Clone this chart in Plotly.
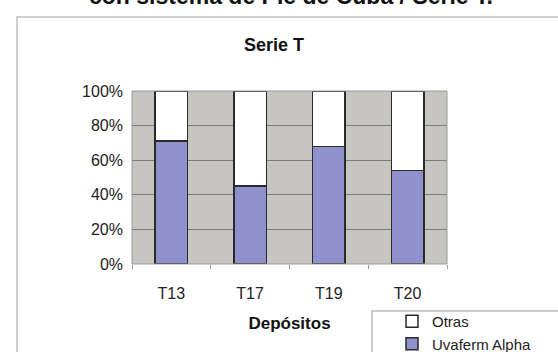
import plotly.graph_objects as go

# Depósitos of the T series and the share of each yeast strain (%)
depositos = ["T13", "T17", "T19", "T20"]
uvaferm_alpha = [71, 45, 68, 54]
otras = [29, 55, 32, 46]
y_ticks = [0, 20, 40, 60, 80, 100]

W, H = 558, 352
L, R, T, B = 132, 111, 91, 88
plot_w = W - L - R
plot_h = H - T - B


def px_x(x):
    return (x - L) / plot_w


def px_y(y):
    return (H - B - y) / plot_h


FONT = "Liberation Sans, Arial, sans-serif"
EDGE = "#2a2a2a"

fig = go.Figure()
fig.add_trace(go.Bar(
    x=depositos, y=uvaferm_alpha, name="Uvaferm Alpha",
    marker=dict(color="#8f91cc", line=dict(color=EDGE, width=1.5)),
))
fig.add_trace(go.Bar(
    x=depositos, y=otras, name="Otras",
    marker=dict(color="#ffffff", line=dict(color=EDGE, width=1.5)),
))

shapes = [
    # outer chart frame
    dict(type="rect", xref="paper", yref="paper", layer="below",
         x0=px_x(17), x1=px_x(575), y0=px_y(370), y1=px_y(17),
         line=dict(color="#cfcfcf", width=2), fillcolor="white"),
    # grey plot area
    dict(type="rect", xref="paper", yref="paper", layer="below",
         x0=0, x1=1, y0=0, y1=1, line=dict(width=0), fillcolor="#c6c5c1"),
    # plot area border
    dict(type="rect", xref="paper", yref="paper", layer="above",
         x0=0, x1=1, y0=0, y1=1, line=dict(color="#9a9a9a", width=1)),
    # legend box
    dict(type="rect", xref="paper", yref="paper", layer="below",
         x0=px_x(372), x1=px_x(575), y0=px_y(370), y1=px_y(311),
         line=dict(color="#bdbdbd", width=1.5), fillcolor="white"),
]

annotations = [
    dict(text="<b>con sistema de Pie de Cuba / Serie T.</b>", xref="paper", yref="paper",
         x=px_x(291), y=px_y(-4), xanchor="center", yanchor="middle",
         showarrow=False, font=dict(family=FONT, size=23, color="#111")),
    dict(text="<b>Serie T</b>", xref="paper", yref="paper",
         x=px_x(274), y=px_y(45), xanchor="center", yanchor="middle",
         showarrow=False, font=dict(family=FONT, size=18, color="#111")),
]

fig.update_layout(
    width=W, height=H,
    margin=dict(l=L, r=R, t=T, b=B, autoexpand=False),
    barmode="stack", bargap=0.59,
    paper_bgcolor="white", plot_bgcolor="rgba(0,0,0,0)",
    font=dict(family=FONT, size=16, color="#222"),
    showlegend=True,
    legend=dict(
        x=px_x(392), y=px_y(305), xanchor="left", yanchor="top",
        traceorder="reversed", bgcolor="rgba(0,0,0,0)",
        borderwidth=0, itemwidth=30, tracegroupgap=0,
        font=dict(family=FONT, size=15, color="#222"),
    ),
    shapes=shapes,
    annotations=annotations,
    xaxis=dict(
        title=dict(text="<b>Depósitos</b>", font=dict(family=FONT, size=17, color="#111"), standoff=16),
        showgrid=False, ticks="outside", tickson="boundaries", ticklen=4,
        tickcolor="#9a9a9a", showline=False, ticklabelstandoff=18,
        tickfont=dict(family=FONT, size=16, color="#222"),
    ),
    yaxis=dict(
        range=[0, 100], tickmode="array", tickvals=y_ticks,
        ticktext=[f"{v}%" for v in y_ticks],
        showgrid=True, gridcolor="#7c7c7c", gridwidth=1,
        zeroline=False, ticks="", showline=False, ticklabelstandoff=8,
        tickfont=dict(family=FONT, size=16, color="#222"),
    ),
)

fig.write_html("out.html")
